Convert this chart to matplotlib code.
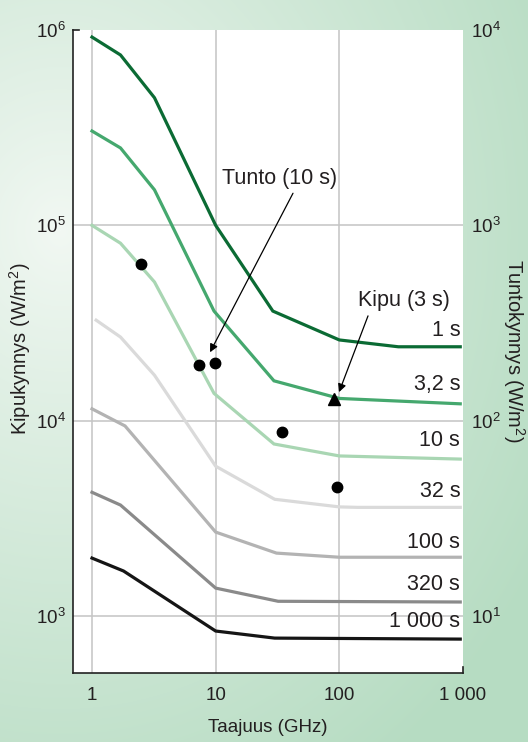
import numpy as np
import matplotlib
matplotlib.use('Agg')
import matplotlib.pyplot as plt

plt.rcParams['font.family'] = ['Liberation Sans', 'DejaVu Sans']
plt.rcParams['mathtext.fontset'] = 'custom'
plt.rcParams['mathtext.rm'] = 'Liberation Sans'
plt.rcParams['mathtext.it'] = 'Liberation Sans:italic'
plt.rcParams['mathtext.bf'] = 'Liberation Sans:bold'

# ---------------- data ----------------
labels = ['1 s', '3,2 s', '10 s', '32 s', '100 s', '320 s', '1 000 s']
colors = ['#0b6b34', '#45a86e', '#a9d6b3', '#dadada', '#b3b3b3', '#8a8a8a', '#151515']

f_1s = [1, 1.7, 3.2, 10, 29, 100, 300, 950]
p_1s = [9.2e5, 7.45e5, 4.5e5, 1.0e5, 3.64e4, 2.59e4, 2.39e4, 2.39e4]
f_3s = [1, 1.7, 3.2, 9.7, 29.6, 100, 950]
p_3s = [3.04e5, 2.49e5, 1.52e5, 3.64e4, 1.6e4, 1.3e4, 1.22e4]
f_10s = [1, 1.7, 3.2, 9.7, 29.6, 100, 950]
p_10s = [1.0e5, 8.1e4, 5.13e4, 1.38e4, 7.6e3, 6.6e3, 6.36e3]
f_32s = [1.08, 1.7, 3.2, 10, 30, 100, 140, 950]
p_32s = [3.27e4, 2.68e4, 1.71e4, 5.85e3, 3.96e3, 3.62e3, 3.6e3, 3.6e3]
f_100s = [1, 1.85, 10, 31, 100, 950]
p_100s = [1.15e4, 9.4e3, 2.69e3, 2.1e3, 2.0e3, 2.0e3]
f_320s = [1, 1.7, 10, 32, 950]
p_320s = [4.3e3, 3.7e3, 1.39e3, 1.19e3, 1.18e3]
f_1000s = [1, 1.8, 10, 30, 950]
p_1000s = [1.98e3, 1.7e3, 838, 771, 762]

dot_f = [2.49, 7.33, 9.9, 34.3, 95.8]
dot_p = [6.34e4, 1.93e4, 1.97e4, 8.75e3, 4.57e3]
tri_f = [90.5]
tri_p = [1.29e4]

x_ticks = [1, 10, 100, 1000]
x_ticklabels = ['1', '10', '100', '1 000']
y_ticks = [1e3, 1e4, 1e5, 1e6]
y_ticklabels = [r'$\mathregular{10^{3}}$', r'$\mathregular{10^{4}}$',
                r'$\mathregular{10^{5}}$', r'$\mathregular{10^{6}}$']
y2_ticks = [1e1, 1e2, 1e3, 1e4]
y2_ticklabels = [r'$\mathregular{10^{1}}$', r'$\mathregular{10^{2}}$',
                 r'$\mathregular{10^{3}}$', r'$\mathregular{10^{4}}$']

series_f = [f_1s, f_3s, f_10s, f_32s, f_100s, f_320s, f_1000s]
series_p = [p_1s, p_3s, p_10s, p_32s, p_100s, p_320s, p_1000s]

TXT = '#231f20'
FS = 13.5
FS_L = 15.5
FS_Y = 14.5

# ---------------- figure ----------------
W, H = 528, 742
fig = plt.figure(figsize=(W / 100, H / 100), dpi=100)

# background gradient
bg = fig.add_axes([0, 0, 1, 1], zorder=-10)
yy, xx = np.mgrid[0:H, 0:W]
cx, cy = 60, 230
d = np.sqrt((xx - cx) ** 2 + ((yy - cy) * 0.85) ** 2)
t = np.clip(d / 560.0, 0, 1) ** 0.9
c0 = np.array([242, 248, 243]) / 255.0
c1 = np.array([182, 220, 194]) / 255.0
img = c0[None, None, :] * (1 - t[..., None]) + c1[None, None, :] * t[..., None]
bg.imshow(img, aspect='auto', extent=[0, 1, 0, 1], origin='upper')
bg.axis('off')

ax = fig.add_axes([73 / W, 69 / H, 390 / W, 643 / H])
ax.set_facecolor('white')
ax.set_xscale('log')
ax.set_yscale('log')
ax.set_xlim(0.702, 1000)
ax.set_ylim(511, 1e6)

# grid lines (inside only)
for xv in x_ticks[:-1]:
    ax.axvline(xv, color='#c4c4c4', lw=1.1, zorder=1)
for yv in y_ticks[:-1]:
    ax.axhline(yv, color='#c4c4c4', lw=1.1, zorder=1)

for f, p, c in zip(series_f, series_p, colors):
    ax.plot(f, p, color=c, lw=2.3, solid_joinstyle='miter', zorder=3)

offsets = [4, 6, 6, 4, 3, 5, 5]
for f, p, lab, off in zip(series_f, series_p, labels, offsets):
    ax.annotate(lab, xy=(f[-1], p[-1]), xytext=(0, off), textcoords='offset points',
                ha='right', va='bottom', fontsize=FS_L, color=TXT, zorder=4)

ax.plot(dot_f, dot_p, 'o', color='black', ms=7.5, zorder=5)
ax.plot(tri_f, tri_p, '^', color='black', ms=8, zorder=5)

# annotations
ax.text(33.1, 1.73e5, 'Tunto (10 s)', ha='center', va='center', fontsize=FS_L, color=TXT)
ax.annotate('', xy=(9.0, 2.24e4), xytext=(42.2, 1.46e5),
            arrowprops=dict(arrowstyle='-|>', lw=0.9, color='black',
                            mutation_scale=12, shrinkA=0, shrinkB=0))
ax.text(333, 4.14e4, 'Kipu (3 s)', ha='center', va='center', fontsize=FS_L, color=TXT)
ax.annotate('', xy=(99.4, 1.40e4), xytext=(170.6, 3.44e4),
            arrowprops=dict(arrowstyle='-|>', lw=0.9, color='black',
                            mutation_scale=12, shrinkA=0, shrinkB=0))

# axes styling
for s in ['top', 'right']:
    ax.spines[s].set_visible(False)
for s in ['left', 'bottom']:
    ax.spines[s].set_linewidth(1.2)
    ax.spines[s].set_color('#222222')
ax.set_xticks(x_ticks)
ax.set_xticklabels(x_ticklabels)
ax.set_yticks(y_ticks)
ax.set_yticklabels(y_ticklabels)
ax.minorticks_off()
ax.tick_params(axis='both', length=0, labelsize=FS, colors=TXT)
ax.tick_params(axis='x', pad=10)
ax.tick_params(axis='y', pad=5)

# small end ticks
ax.plot([0, 0.016], [1, 1], transform=ax.transAxes, color='#222222', lw=1.2, clip_on=False)
ax.plot([1, 1], [0, 0.009], transform=ax.transAxes, color='#222222', lw=1.2, clip_on=False)

ax2 = ax.twinx()
ax2.set_yscale('log')
ax2.set_ylim(5.11, 1e4)
ax2.set_yticks(y2_ticks)
ax2.set_yticklabels(y2_ticklabels)
ax2.minorticks_off()
ax2.tick_params(axis='y', length=0, labelsize=FS, colors=TXT, pad=6)
for s in ax2.spines.values():
    s.set_visible(False)

fig.text(268 / W, 1 - 727 / H, 'Taajuus (GHz)', ha='center', va='center', fontsize=FS, color=TXT)
fig.text(20 / W, 1 - 349 / H, r'Kipukynnys (W/m$\mathregular{^{2}}$)', rotation=90,
         ha='center', va='center', fontsize=FS_Y, color=TXT)
fig.text(514 / W, 1 - 351 / H, r'Tuntokynnys (W/m$\mathregular{^{2}}$)', rotation=270,
         ha='center', va='center', fontsize=FS_Y, color=TXT)

fig.savefig('out.png', dpi=100)
